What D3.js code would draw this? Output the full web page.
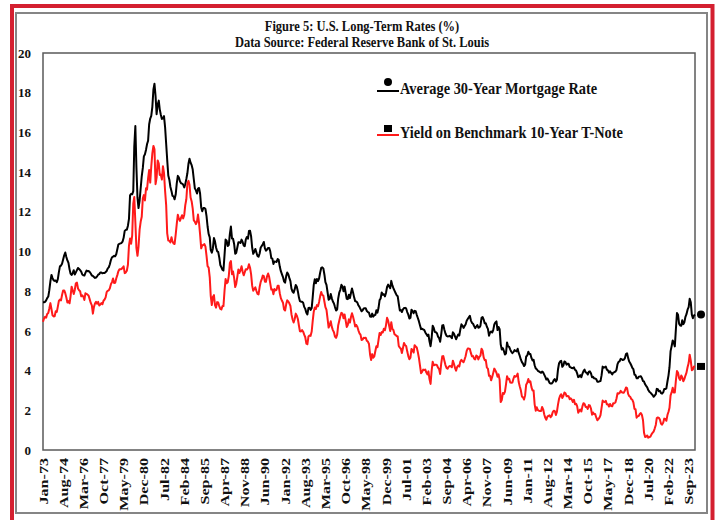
<!DOCTYPE html>
<html>
<head>
<meta charset="utf-8">
<script src="https://cdn.jsdelivr.net/npm/d3@7.9.0/dist/d3.min.js"></script>
<style>
  body { margin: 0; background: #fff; }
  svg { display: block; }
  text { font-family: "Liberation Serif", "Times New Roman", serif; font-weight: bold; fill: #111; }
</style>
</head>
<body>
<svg id="chart" width="717" height="520"></svg>
<script>
// monthly averages, Jan-1973 .. Mar-2024
const startMonth = "1973-01";

const mortgage = [
  7.44, 7.44, 7.46, 7.54, 7.65, 7.73, 8.05, 8.50, 8.82, 8.66, 8.55, 8.52,
  8.54, 8.45, 8.60, 8.96, 9.25, 9.29, 9.38, 9.60, 9.81, 9.95, 9.72, 9.55,
  9.43, 9.10, 8.89, 8.82, 8.91, 9.06, 8.84, 8.95, 9.06, 9.17, 9.12, 9.06,
  8.99, 8.84, 8.80, 8.79, 8.92, 9.04, 9.01, 9.02, 8.97, 8.89, 8.79, 8.77,
  8.72, 8.67, 8.69, 8.75, 8.83, 8.86, 8.94, 8.94, 8.90, 8.92, 8.92, 8.96,
  9.02, 9.15, 9.20, 9.36, 9.57, 9.71, 9.74, 9.78, 9.76, 9.86, 10.11, 10.35,
  10.39, 10.41, 10.43, 10.50, 10.69, 11.04, 11.09, 11.09, 11.30, 11.64, 12.83, 12.90,
  12.88, 13.04, 15.28, 16.32, 14.26, 12.71, 12.19, 12.56, 13.20, 13.79, 14.21, 14.79,
  14.90, 15.13, 15.40, 15.58, 16.40, 16.70, 16.83, 17.29, 18.16, 18.45, 17.83, 16.92,
  17.40, 17.60, 17.16, 16.89, 16.68, 16.70, 16.82, 16.27, 15.43, 14.61, 13.83, 13.62,
  13.25, 13.04, 12.80, 12.78, 12.63, 12.87, 13.42, 13.81, 13.73, 13.54, 13.44, 13.42,
  13.37, 13.23, 13.39, 13.65, 13.94, 14.42, 14.67, 14.47, 14.35, 14.13, 13.64, 13.18,
  13.08, 12.92, 13.17, 13.20, 12.91, 12.22, 12.03, 12.19, 12.19, 12.14, 11.78, 11.26,
  10.88, 10.71, 10.08, 9.94, 10.14, 10.68, 10.51, 10.20, 10.01, 9.98, 9.70, 9.32,
  9.20, 9.08, 9.04, 9.83, 10.60, 10.54, 10.28, 10.33, 10.89, 11.26, 10.65, 10.64,
  10.38, 9.89, 9.93, 10.20, 10.46, 10.46, 10.43, 10.60, 10.48, 10.30, 10.27, 10.61,
  10.73, 10.65, 11.03, 11.05, 10.77, 10.20, 9.88, 9.99, 10.13, 9.95, 9.77, 9.74,
  9.90, 10.20, 10.27, 10.37, 10.48, 10.16, 10.04, 10.10, 10.18, 10.18, 10.01, 9.67,
  9.64, 9.37, 9.50, 9.49, 9.47, 9.62, 9.58, 9.24, 9.01, 8.86, 8.71, 8.50,
  8.43, 8.76, 8.94, 8.85, 8.67, 8.51, 8.13, 7.98, 7.92, 8.09, 8.31, 8.22,
  7.99, 7.68, 7.50, 7.47, 7.47, 7.42, 7.21, 7.11, 6.92, 6.83, 7.16, 7.17,
  7.06, 7.15, 7.68, 8.32, 8.60, 8.40, 8.61, 8.51, 8.64, 8.93, 9.17, 9.20,
  9.15, 8.83, 8.46, 8.32, 7.96, 7.57, 7.61, 7.86, 7.64, 7.48, 7.38, 7.20,
  7.03, 7.08, 7.62, 7.93, 8.07, 8.32, 8.25, 8.00, 8.23, 7.92, 7.62, 7.60,
  7.82, 7.65, 7.90, 8.14, 7.94, 7.69, 7.50, 7.48, 7.43, 7.29, 7.21, 7.10,
  6.99, 7.04, 7.13, 7.14, 7.14, 7.00, 6.95, 6.92, 6.72, 6.71, 6.87, 6.72,
  6.79, 6.81, 7.04, 6.92, 7.15, 7.55, 7.63, 7.94, 7.82, 7.85, 7.74, 7.91,
  8.21, 8.33, 8.24, 8.15, 8.52, 8.29, 8.15, 8.03, 7.91, 7.80, 7.75, 7.38,
  7.03, 7.05, 6.95, 7.08, 7.15, 7.16, 7.13, 6.95, 6.82, 6.62, 6.66, 7.07,
  7.00, 6.89, 7.01, 6.99, 6.81, 6.65, 6.49, 6.29, 6.09, 6.11, 6.07, 6.05,
  5.92, 5.84, 5.75, 5.81, 5.48, 5.23, 5.63, 6.26, 6.15, 5.95, 5.93, 5.88,
  5.71, 5.64, 5.45, 5.83, 6.27, 6.29, 6.06, 5.87, 5.75, 5.72, 5.73, 5.75,
  5.71, 5.63, 5.93, 5.86, 5.72, 5.58, 5.70, 5.82, 5.77, 6.07, 6.33, 6.27,
  6.15, 6.25, 6.32, 6.51, 6.60, 6.68, 6.76, 6.52, 6.40, 6.36, 6.24, 6.14,
  6.22, 6.29, 6.16, 6.18, 6.26, 6.66, 6.70, 6.57, 6.38, 6.38, 6.21, 6.10,
  5.76, 5.92, 5.97, 5.92, 6.04, 6.32, 6.43, 6.48, 6.04, 6.20, 6.09, 5.33,
  5.06, 5.13, 5.00, 4.81, 4.86, 5.42, 5.22, 5.19, 5.06, 4.95, 4.88, 4.93,
  5.03, 4.99, 4.97, 5.10, 4.89, 4.74, 4.56, 4.43, 4.35, 4.23, 4.30, 4.71,
  4.76, 4.95, 4.84, 4.84, 4.64, 4.51, 4.55, 4.27, 4.11, 4.07, 3.99, 3.96,
  3.92, 3.89, 3.95, 3.91, 3.80, 3.68, 3.55, 3.60, 3.50, 3.38, 3.35, 3.35,
  3.41, 3.53, 3.57, 3.45, 3.54, 4.07, 4.37, 4.46, 4.49, 4.19, 4.26, 4.46,
  4.43, 4.30, 4.34, 4.34, 4.19, 4.16, 4.13, 4.12, 4.16, 4.04, 4.00, 3.86,
  3.67, 3.71, 3.77, 3.67, 3.84, 3.98, 4.05, 3.91, 3.89, 3.80, 3.94, 3.96,
  3.87, 3.66, 3.69, 3.61, 3.60, 3.57, 3.44, 3.44, 3.46, 3.47, 3.77, 4.20,
  4.15, 4.17, 4.20, 4.05, 4.01, 3.90, 3.97, 3.88, 3.81, 3.90, 3.92, 3.95,
  4.03, 4.33, 4.44, 4.47, 4.59, 4.57, 4.53, 4.55, 4.63, 4.83, 4.87, 4.64,
  4.46, 4.37, 4.27, 4.14, 4.07, 3.80, 3.77, 3.62, 3.61, 3.69, 3.70, 3.72,
  3.62, 3.47, 3.45, 3.31, 3.23, 3.16, 3.02, 2.94, 2.89, 2.83, 2.77, 2.68,
  2.74, 2.81, 3.08, 3.06, 2.96, 2.98, 2.87, 2.84, 2.90, 3.07, 3.07, 3.10,
  3.45, 3.76, 4.17, 4.98, 5.23, 5.52, 5.41, 5.22, 6.11, 6.90, 6.81, 6.36,
  6.27, 6.26, 6.54, 6.34, 6.43, 6.71, 6.84, 7.07, 7.20, 7.62, 7.44, 6.82,
  6.64, 6.78, 6.82
];

const tnote = [
  6.46, 6.64, 6.71, 6.67, 6.85, 6.90, 7.13, 7.40, 7.09, 6.79, 6.73, 6.74,
  6.99, 6.96, 7.21, 7.51, 7.58, 7.54, 7.81, 8.04, 8.04, 7.90, 7.68, 7.43,
  7.50, 7.39, 7.73, 8.23, 8.06, 7.86, 8.06, 8.40, 8.43, 8.14, 8.05, 8.00,
  7.74, 7.79, 7.73, 7.56, 7.90, 7.86, 7.83, 7.77, 7.59, 7.41, 7.29, 6.87,
  7.21, 7.39, 7.46, 7.37, 7.46, 7.28, 7.33, 7.40, 7.34, 7.52, 7.58, 7.69,
  7.96, 8.03, 8.04, 8.15, 8.35, 8.46, 8.64, 8.41, 8.42, 8.64, 8.81, 9.01,
  9.10, 9.10, 9.12, 9.18, 9.25, 8.91, 8.95, 9.03, 9.33, 10.30, 10.65, 10.39,
  10.80, 12.41, 12.75, 11.47, 10.18, 9.78, 10.25, 11.10, 11.51, 11.75, 12.68, 12.84,
  12.57, 13.19, 13.12, 13.68, 14.10, 13.47, 14.28, 14.94, 15.32, 15.15, 13.39, 13.72,
  14.59, 14.43, 13.86, 13.87, 13.62, 14.30, 13.95, 13.06, 12.34, 10.91, 10.55, 10.54,
  10.46, 10.72, 10.51, 10.40, 10.38, 10.85, 11.38, 11.85, 11.65, 11.54, 11.69, 11.83,
  11.67, 11.84, 12.32, 12.63, 13.41, 13.56, 13.36, 12.72, 12.52, 12.16, 11.57, 11.50,
  11.38, 11.51, 11.86, 11.43, 10.85, 10.16, 10.31, 10.33, 10.37, 10.24, 9.78, 9.26,
  9.19, 8.70, 7.78, 7.30, 7.71, 7.80, 7.30, 7.17, 7.45, 7.43, 7.25, 7.11,
  7.08, 7.25, 7.25, 8.02, 8.61, 8.40, 8.45, 8.76, 9.42, 9.52, 8.86, 8.99,
  8.67, 8.21, 8.37, 8.72, 9.09, 8.92, 9.06, 9.26, 8.98, 8.80, 8.96, 9.11,
  9.09, 9.17, 9.36, 9.18, 8.86, 8.28, 8.02, 8.11, 8.19, 8.01, 7.87, 7.84,
  8.21, 8.47, 8.59, 8.79, 8.76, 8.48, 8.47, 8.75, 8.89, 8.72, 8.39, 8.08,
  8.09, 7.85, 8.11, 8.04, 8.07, 8.28, 8.27, 7.90, 7.65, 7.53, 7.42, 7.09,
  7.03, 7.34, 7.54, 7.48, 7.39, 7.26, 6.84, 6.59, 6.42, 6.59, 6.87, 6.77,
  6.60, 6.26, 5.98, 5.97, 6.04, 5.96, 5.81, 5.68, 5.36, 5.33, 5.72, 5.77,
  5.75, 5.97, 6.48, 6.97, 7.18, 7.10, 7.30, 7.24, 7.46, 7.74, 7.96, 7.81,
  7.78, 7.47, 7.20, 7.06, 6.63, 6.17, 6.28, 6.49, 6.20, 6.04, 5.93, 5.71,
  5.65, 5.81, 6.27, 6.51, 6.74, 6.91, 6.87, 6.64, 6.83, 6.53, 6.20, 6.30,
  6.58, 6.42, 6.69, 6.89, 6.71, 6.49, 6.22, 6.30, 6.21, 6.03, 5.88, 5.81,
  5.54, 5.57, 5.65, 5.64, 5.65, 5.50, 5.46, 5.34, 4.81, 4.53, 4.83, 4.65,
  4.72, 5.00, 5.23, 5.18, 5.54, 5.90, 5.79, 5.94, 5.92, 6.11, 6.03, 6.28,
  6.66, 6.52, 6.26, 5.99, 6.44, 6.10, 6.05, 5.83, 5.80, 5.74, 5.72, 5.24,
  5.16, 5.10, 4.89, 5.14, 5.39, 5.28, 5.24, 4.97, 4.73, 4.57, 4.65, 5.09,
  5.04, 4.91, 5.28, 5.21, 5.16, 4.93, 4.65, 4.26, 3.87, 3.94, 4.05, 4.03,
  4.05, 3.90, 3.81, 3.96, 3.57, 3.33, 3.98, 4.45, 4.27, 4.29, 4.30, 4.27,
  4.15, 4.08, 3.83, 4.35, 4.72, 4.73, 4.50, 4.28, 4.13, 4.10, 4.19, 4.23,
  4.22, 4.17, 4.50, 4.34, 4.14, 4.00, 4.18, 4.26, 4.20, 4.46, 4.54, 4.47,
  4.42, 4.57, 4.72, 4.99, 5.11, 5.11, 5.09, 4.88, 4.72, 4.73, 4.60, 4.56,
  4.76, 4.72, 4.56, 4.69, 4.75, 5.10, 5.00, 4.67, 4.52, 4.53, 4.15, 4.10,
  3.74, 3.74, 3.51, 3.68, 3.88, 4.10, 4.01, 3.89, 3.69, 3.81, 3.53, 2.42,
  2.52, 2.87, 2.82, 2.93, 3.29, 3.72, 3.56, 3.59, 3.40, 3.39, 3.40, 3.59,
  3.73, 3.69, 3.73, 3.85, 3.42, 3.20, 3.01, 2.70, 2.65, 2.54, 2.76, 3.29,
  3.39, 3.58, 3.41, 3.46, 3.17, 3.00, 3.00, 2.30, 1.98, 2.15, 2.01, 1.98,
  1.97, 1.97, 2.17, 2.05, 1.80, 1.62, 1.53, 1.68, 1.72, 1.75, 1.65, 1.72,
  1.91, 1.98, 1.96, 1.76, 1.93, 2.30, 2.58, 2.74, 2.81, 2.62, 2.72, 2.90,
  2.86, 2.71, 2.72, 2.71, 2.56, 2.60, 2.54, 2.42, 2.53, 2.30, 2.33, 2.21,
  1.88, 1.98, 2.04, 1.94, 2.20, 2.36, 2.32, 2.17, 2.17, 2.07, 2.26, 2.24,
  2.09, 1.78, 1.89, 1.81, 1.81, 1.64, 1.50, 1.56, 1.63, 1.76, 2.14, 2.49,
  2.43, 2.42, 2.48, 2.30, 2.30, 2.19, 2.32, 2.21, 2.20, 2.36, 2.35, 2.40,
  2.58, 2.86, 2.84, 2.87, 2.98, 2.91, 2.89, 2.89, 3.00, 3.15, 3.12, 2.83,
  2.71, 2.68, 2.57, 2.53, 2.40, 2.07, 2.06, 1.63, 1.70, 1.71, 1.81, 1.86,
  1.76, 1.50, 0.87, 0.66, 0.67, 0.73, 0.62, 0.65, 0.68, 0.79, 0.87, 0.93,
  1.08, 1.26, 1.61, 1.64, 1.62, 1.52, 1.32, 1.28, 1.37, 1.58, 1.56, 1.47,
  1.76, 1.93, 2.13, 2.75, 2.90, 3.14, 2.90, 2.90, 3.52, 3.98, 3.89, 3.62,
  3.53, 3.75, 3.66, 3.46, 3.57, 3.75, 3.90, 4.17, 4.38, 4.80, 4.50, 4.02,
  4.06, 4.21, 4.21
];

const yTicks = [0, 2, 4, 6, 8, 10, 12, 14, 16, 18, 20];
const xTickLabels = [
  "Jan-73", "Aug-74", "Mar-76", "Oct-77", "May-79", "Dec-80", "Jul-82", "Feb-84",
  "Sep-85", "Apr-87", "Nov-88", "Jun-90", "Jan-92", "Aug-93", "Mar-95", "Oct-96",
  "May-98", "Dec-99", "Jul-01", "Feb-03", "Sep-04", "Apr-06", "Nov-07", "Jun-09",
  "Jan-11", "Aug-12", "Mar-14", "Oct-15", "May-17", "Dec-18", "Jul-20", "Feb-22", "Sep-23"
];
const titleLines = ["Figure 5: U.S. Long-Term Rates (%)", "Data Source: Federal Reserve Bank of St. Louis"];
const seriesNames = ["Average 30-Year Mortgage Rate", "Yield on Benchmark 10-Year T-Note"];
const seriesColors = ["#000000", "#ff1a1a"];

const svg = d3.select("#chart");
const W = 717;
const margin = { left: 43, right: 22, top: 53, bottom: 70 };
const H = 520;

// outer frames
svg.append("rect").attr("x", 12).attr("y", 6).attr("width", 700.5).attr("height", 540)
  .attr("fill", "none").attr("stroke", "#d42030").attr("stroke-width", 4);
svg.append("rect").attr("x", 16).attr("y", 13).attr("width", 691).attr("height", 500)
  .attr("fill", "none").attr("stroke", "#858585").attr("stroke-width", 2);

const parseMonth = d3.timeParse("%Y-%m");
const parseTick = d3.timeParse("%b-%y");
const t0 = parseMonth(startMonth);
const dates = mortgage.map((_, i) => d3.timeMonth.offset(t0, i));

const x = d3.scaleTime()
  .domain([dates[0], dates[dates.length - 1]])
  .range([margin.left, W - margin.right]);
const y = d3.scaleLinear().domain([0, 20]).range([H - margin.bottom, margin.top]);

// plot frame
svg.append("rect")
  .attr("x", x.range()[0]).attr("y", y(20))
  .attr("width", x.range()[1] - x.range()[0]).attr("height", y(0) - y(20))
  .attr("fill", "none").attr("stroke", "#5a5a5a").attr("stroke-width", 1.5);

// titles
svg.selectAll(".title").data(titleLines).join("text")
  .attr("class", "title")
  .attr("text-anchor", "middle")
  .attr("transform", (d, i) => `translate(362,${31 + i * 16}) scale(1,1.25)`)
  .style("font-size", "12.5px")
  .text(d => d);

// y axis
const yAxis = svg.append("g")
  .attr("transform", `translate(${margin.left},0)`)
  .call(d3.axisLeft(y).tickValues(yTicks).tickSize(0).tickPadding(12));
yAxis.select(".domain").remove();
yAxis.selectAll("text")
  .style("font-size", "13px")
  .style("font-family", "'Liberation Serif', serif")
  .style("font-weight", "bold")
  .attr("fill", "#111");

// x axis with rotated labels
const xAxis = svg.append("g")
  .attr("transform", `translate(0,${y(0)})`)
  .call(d3.axisBottom(x).tickValues(xTickLabels.map(parseTick)).tickSize(0)
    .tickFormat((d, i) => xTickLabels[i]));
xAxis.select(".domain").remove();
xAxis.selectAll("text")
  .style("font-size", "11.5px")
  .style("font-family", "'Liberation Serif', serif")
  .style("font-weight", "bold")
  .attr("fill", "#111")
  .attr("text-anchor", "end")
  .attr("y", 0)
  .attr("x", 0)
  .attr("dy", "0.35em")
  .attr("transform", "translate(0,8) rotate(-90) scale(1.4,1)");

// lines
const series = [mortgage, tnote];
const line = d3.line().x((d, i) => x(dates[i])).y(d => y(d));
svg.selectAll(".series").data(series).join("path")
  .attr("class", "series")
  .attr("fill", "none")
  .attr("stroke", (d, i) => seriesColors[i])
  .attr("stroke-width", 2)
  .attr("stroke-linejoin", "round")
  .attr("d", line);

// end markers for latest values
const last = dates.length - 1;
const xEnd = x(dates[last]) + 6;
svg.append("circle").attr("cx", xEnd).attr("cy", y(mortgage[last])).attr("r", 4).attr("fill", "#000");
svg.append("rect").attr("x", xEnd - 4).attr("y", y(tnote[last]) - 3.5).attr("width", 8).attr("height", 7).attr("fill", "#000");

// legend
const legend = svg.append("g").attr("transform", "translate(377,0)");
const legendRows = [91, 135];
legend.selectAll(".lg-line").data(seriesNames).join("line")
  .attr("x1", 0).attr("x2", 22)
  .attr("y1", (d, i) => legendRows[i]).attr("y2", (d, i) => legendRows[i])
  .attr("stroke", (d, i) => seriesColors[i]).attr("stroke-width", 2);
legend.append("circle").attr("cx", 11).attr("cy", legendRows[0] - 9).attr("r", 4).attr("fill", "#000");
legend.append("rect").attr("x", 7).attr("y", legendRows[1] - 10).attr("width", 8).attr("height", 7).attr("fill", "#000");
legend.selectAll(".lg-text").data(seriesNames).join("text")
  .attr("transform", (d, i) => `translate(23,${legendRows[i] + 3}) scale(1,1.15)`)
  .style("font-size", "14.4px")
  .text(d => d);
</script>
</body>
</html>
